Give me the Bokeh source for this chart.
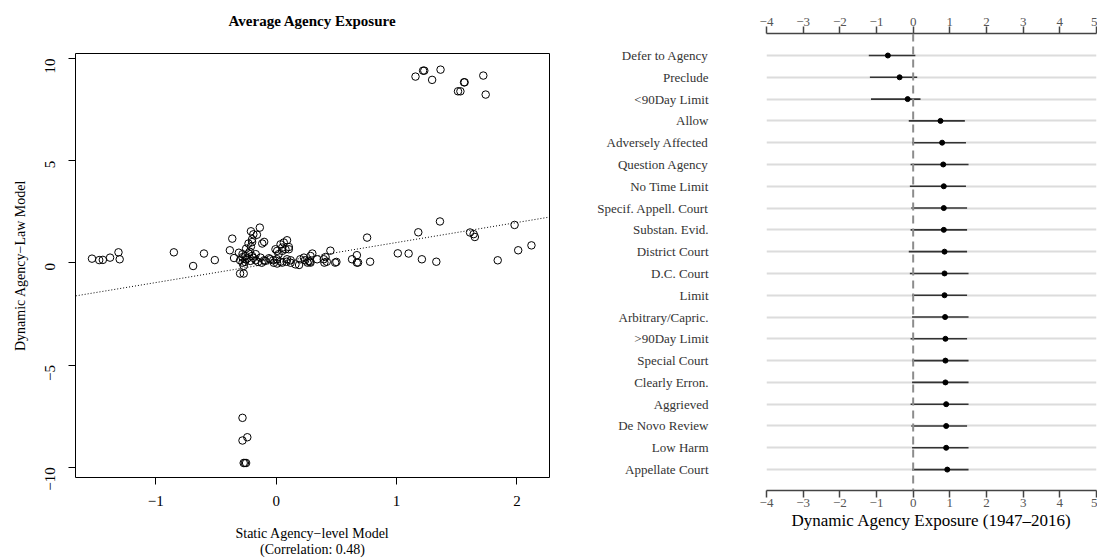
import numpy as np
from bokeh.plotting import figure
from bokeh.layouts import row, column
from bokeh.models import Range1d, FixedTicker, Slope, Span, LinearAxis
from bokeh.embed import file_html
from bokeh.resources import INLINE

# ---- left panel: static vs dynamic agency exposure ----
static_model = [
    -1.53, -1.47, -1.44, -1.38, -1.31, -1.30, -0.85, -0.69, -0.60, -0.51,
    -0.365, -0.385, -0.35, -0.30, -0.27,
    -0.21, -0.19, -0.20, -0.136, -0.23, -0.20, -0.16, -0.116, -0.10,
    -0.31, -0.28, -0.255, -0.23, -0.20, -0.17, -0.255, -0.30, -0.215, -0.17,
    -0.13, -0.10, -0.06, -0.28, -0.27, -0.28, -0.24, -0.22, -0.25, -0.21,
    -0.26, -0.19, -0.15, -0.12, -0.09, -0.05, -0.025, -0.02,
    0.008, 0.036, 0.063, 0.09, 0.02, 0.05, 0.077, 0.105, -0.006, 0.05, 0.105,
    0.036, 0.086, 0.12, 0.008, 0.008, 0.05, 0.09, 0.16, 0.12, 0.19,
    0.20, 0.23, 0.24, 0.26, 0.28, 0.27, 0.285, 0.30, 0.34, 0.285,
    0.395, 0.41, 0.42, 0.40, 0.45, 0.49, 0.50,
    0.63, 0.67, 0.67, 0.68, 0.755, 0.78,
    1.01, 1.10, 1.18, 1.21, 1.33, 1.36,
    1.61, 1.64, 1.65, 1.84, 1.98, 2.01, 2.12,
    1.157, 1.22, 1.23, 1.295, 1.365, 1.56, 1.565, 1.51, 1.53, 1.72, 1.74,
    -0.28, -0.28, -0.24, -0.27, -0.25, -0.26,
]
dynamic_model = [
    0.21, 0.14, 0.15, 0.26, 0.52, 0.18, 0.52, -0.15, 0.46, 0.14,
    1.19, 0.62, 0.24, -0.52, -0.52,
    1.55, 1.40, 1.16, 1.73, 0.95, 1.02, 1.38, 0.95, 1.03,
    0.50, 0.43, 0.34, 0.46, 0.34, 0.43, 0.18, 0.13, 0.10, 0.13,
    0.26, 0.13, 0.23, 0.01, -0.15, 0.28, 0.22, 0.55, 0.70, 0.80,
    0.05, 0.25, 0.05, 0.01, 0.10, 0.18, 0.13, 0.01,
    0.59, 0.91, 1.00, 1.11, 0.43, 0.59, 0.67, 0.78, 0.67, 0.75, 0.67,
    0.06, 0.06, 0.13, -0.03, 0.18, 0.015, 0.18, -0.07, 0.01, -0.10,
    0.18, 0.26, 0.13, 0.015, 0.06, 0.10, 0.34, 0.46, 0.18, 0.015,
    0.18, 0.29, 0.06, 0.015, 0.60, 0.015, 0.05,
    0.18, 0.38, 0.015, 0.02, 1.24, 0.06,
    0.47, 0.46, 1.50, 0.18, 0.06, 2.03,
    1.49, 1.41, 1.27, 0.13, 1.86, 0.62, 0.86,
    9.12, 9.41, 9.41, 8.96, 9.46, 8.84, 8.84, 8.40, 8.40, 9.17, 8.24,
    -7.58, -8.69, -8.53, -9.79, -9.79, -9.79,
]
fit_intercept = 0.02
fit_slope = 0.98
x_ticks = [-1, 0, 1, 2]
y_ticks = [-10, -5, 0, 5, 10]

# ---- right panel: dynamic exposure by provision ----
provisions = [
    "Defer to Agency", "Preclude", "<90Day Limit", "Allow", "Adversely Affected",
    "Question Agency", "No Time Limit", "Specif. Appell. Court", "Substan. Evid.",
    "District Court", "D.C. Court", "Limit", "Arbitrary/Capric.", ">90Day Limit",
    "Special Court", "Clearly Erron.", "Aggrieved", "De Novo Review", "Low Harm",
    "Appellate Court",
]
exposure = [-0.69, -0.37, -0.15, 0.745, 0.79, 0.82, 0.835, 0.835, 0.835, 0.855,
            0.855, 0.855, 0.87, 0.88, 0.88, 0.88, 0.90, 0.90, 0.90, 0.93]
exposure_lo = [-1.21, -1.18, -1.15, -0.12, -0.03, -0.07, -0.09, -0.05, -0.07, -0.12,
               -0.09, -0.03, -0.03, -0.07, -0.03, -0.03, -0.07, -0.05, -0.03, -0.03]
exposure_hi = [0.06, 0.11, 0.20, 1.41, 1.44, 1.51, 1.44, 1.47, 1.47, 1.47,
               1.51, 1.47, 1.51, 1.47, 1.51, 1.51, 1.51, 1.47, 1.51, 1.51]
exposure_ticks = [-4, -3, -2, -1, 0, 1, 2, 3, 4, 5]

SERIF = "Liberation Serif"


def minus(v):
    return str(v).replace("-", "\u2212")


# left scatter
p1 = figure(width=560, height=560, output_backend="svg", toolbar_location=None,
            x_range=Range1d(-1.667, 2.27), y_range=Range1d(-10.5, 10.25),
            min_border_left=75, min_border_right=11, min_border_top=53,
            min_border_bottom=83)
p1.title = None
p1.grid.grid_line_color = None
p1.outline_line_color = "black"
p1.outline_line_width = 1

p1.xaxis.ticker = FixedTicker(ticks=x_ticks)
p1.xaxis.major_label_overrides = {t: minus(t) for t in x_ticks}
p1.yaxis.ticker = FixedTicker(ticks=y_ticks)
p1.yaxis.major_label_overrides = {t: minus(t) for t in y_ticks}
p1.yaxis.major_label_orientation = np.pi / 2
for ax in (p1.xaxis[0], p1.yaxis[0]):
    ax.axis_line_color = None
    ax.major_tick_out = 7
    ax.major_tick_in = 0
    ax.major_tick_line_color = "black"
    ax.minor_tick_line_color = None
    ax.major_label_text_font = SERIF
    ax.major_label_text_font_size = "15px"
    ax.major_label_text_color = "black"
    ax.axis_label_text_font = SERIF
    ax.axis_label_text_font_size = "14px"
    ax.axis_label_text_font_style = "normal"
    ax.axis_label_text_color = "black"
p1.xaxis.major_label_standoff = 11
p1.yaxis.major_label_standoff = 18
p1.xaxis.axis_label = "Static Agency\u2212level Model\n(Correlation: 0.48)"
p1.xaxis.axis_label_standoff = 17
p1.xaxis.axis_label_text_line_height = 1.1
p1.yaxis.axis_label = "Dynamic Agency\u2212Law Model"
p1.yaxis.axis_label_standoff = 10

# heading: a bare axis above the frame that only carries its label
heading = LinearAxis(ticker=FixedTicker(ticks=[]), axis_line_color=None,
                     major_tick_line_color=None, minor_tick_line_color=None,
                     major_tick_out=0, major_tick_in=0, major_label_standoff=0,
                     axis_label="Average Agency Exposure", axis_label_standoff=25,
                     axis_label_text_font=SERIF, axis_label_text_font_size="15px",
                     axis_label_text_font_style="bold", axis_label_text_color="black")
p1.add_layout(heading, "above")

p1.add_layout(Slope(gradient=fit_slope, y_intercept=fit_intercept,
                    line_color="black", line_width=1, line_dash="1 2"))
p1.scatter(static_model, dynamic_model, marker="circle", size=7.5,
           fill_color=None, line_color="black", line_width=1)

# right coefficient plot
rows = list(range(len(provisions)))
p2 = figure(width=537, height=560, output_backend="svg", toolbar_location=None,
            x_range=Range1d(-4, 5), y_range=Range1d(19.96, -1.01),
            min_border_left=206, min_border_right=1, min_border_top=33,
            min_border_bottom=70)
p2.title = None
p2.outline_line_color = None
p2.xgrid.grid_line_color = None
p2.ygrid.grid_line_color = "#dcdcdc"
p2.ygrid.grid_line_width = 2

p2.yaxis.ticker = FixedTicker(ticks=rows)
p2.yaxis.major_label_overrides = {i: name for i, name in zip(rows, provisions)}
p2.yaxis.axis_line_color = None
p2.yaxis.major_tick_line_color = None
p2.yaxis.minor_tick_line_color = None
p2.yaxis.major_tick_out = 0
p2.yaxis.major_tick_in = 0
p2.yaxis.major_label_standoff = 58
p2.yaxis.major_label_text_font = SERIF
p2.yaxis.major_label_text_font_size = "13px"
p2.yaxis.major_label_text_color = "#333333"

bottom_axis = p2.below[0]
top_axis = LinearAxis()
p2.add_layout(top_axis, "above")
for ax in (bottom_axis, top_axis):
    ax.ticker = FixedTicker(ticks=exposure_ticks)
    ax.major_label_overrides = {t: minus(t) for t in exposure_ticks}
    ax.axis_line_color = "#444444"
    ax.axis_line_width = 1.5
    ax.major_tick_line_color = "#444444"
    ax.major_tick_line_width = 1.5
    ax.major_tick_out = 7
    ax.major_tick_in = 0
    ax.minor_tick_line_color = None
    ax.major_label_standoff = 1
    ax.major_label_text_font = SERIF
    ax.major_label_text_font_size = "13px"
    ax.major_label_text_color = "#555555"
bottom_axis.axis_label = "Dynamic Agency Exposure (1947\u20132016)"
bottom_axis.axis_label_standoff = 1
bottom_axis.axis_label_text_font = SERIF
bottom_axis.axis_label_text_font_size = "17px"
bottom_axis.axis_label_text_font_style = "normal"
bottom_axis.axis_label_text_color = "black"

p2.segment(x0=exposure_lo, y0=rows, x1=exposure_hi, y1=rows,
           line_color="#333333", line_width=1.6)
p2.scatter(exposure, rows, marker="circle", size=5, color="black")
p2.add_layout(Span(location=0, dimension="height", line_color="#8c8c8c",
                   line_width=2, line_dash="8 5"))

layout = row(column(p1), column(p2))
open("out.html", "w").write(file_html(layout, INLINE))
